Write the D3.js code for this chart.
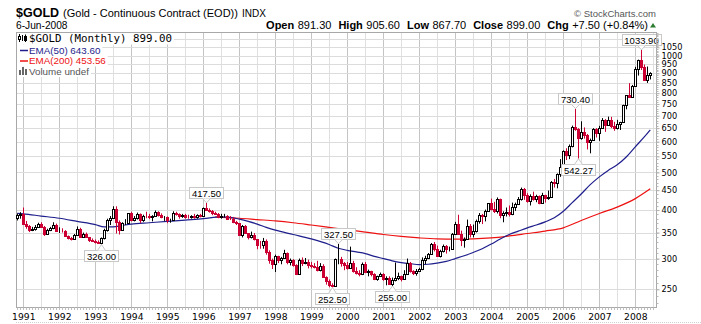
<!DOCTYPE html>
<html>
<head>
<meta charset="utf-8">
<script src="https://cdn.jsdelivr.net/npm/d3@7"></script>
<style>
  body { margin: 0; background: #fff; }
  svg { display: block; font-family: "Liberation Sans", Arial, sans-serif; }
</style>
</head>
<body>
<svg id="chart" width="701" height="324"></svg>
<script>
// ---- Monthly bars, Nov 1990 through Jun 2008 ----
const firstMonth = "1990-11";

const opens = [
  382, 388,                                                   // 1990
  391, 368, 363, 356, 357, 362, 368, 362, 348, 355, 359, 367, // 1991
  354, 354, 353, 342, 338, 337, 344, 357, 341, 348, 340, 334, // 1992
  333, 331, 329, 338, 355, 378, 382, 402, 372, 355, 370, 371, // 1993
  392, 378, 381, 390, 376, 387, 386, 384, 386, 395, 389, 383, // 1994
  384, 376, 377, 392, 390, 386, 388, 384, 383, 385, 383, 388, // 1995
  387, 405, 401, 397, 392, 391, 384, 386, 387, 380, 379, 373, // 1996
  370, 345, 364, 349, 340, 345, 336, 326, 325, 333, 311, 297, // 1997
  290, 304, 297, 301, 310, 294, 297, 289, 274, 297, 293, 294, // 1998
  288, 287, 286, 280, 287, 269, 262, 256, 255, 299, 300, 292, // 1999
  289, 283, 293, 278, 275, 273, 290, 277, 278, 273, 265, 270, // 2000
  273, 266, 267, 258, 264, 267, 271, 266, 274, 293, 279, 275, // 2001
  279, 282, 297, 301, 309, 327, 318, 305, 313, 324, 317, 318, // 2002
  348, 368, 347, 335, 337, 364, 346, 354, 375, 388, 386, 398, // 2003
  416, 403, 397, 427, 388, 393, 395, 391, 408, 415, 428, 453, // 2004
  438, 422, 435, 428, 435, 417, 437, 429, 433, 473, 470, 496, // 2005
  517, 568, 556, 584, 654, 646, 614, 634, 624, 599, 607, 647, // 2006
  632, 650, 684, 664, 681, 658, 651, 667, 673, 745, 790, 783, // 2007
  837, 924, 972, 933, 866, 891.3                              // 2008
];
const highs = [
  392, 395,
  406, 375, 366, 362, 366, 371, 372, 364, 358, 362, 372, 369,
  361, 359, 355, 344, 341, 347, 363, 360, 350, 350, 341, 338,
  336, 334, 340, 358, 380, 386, 409, 409, 376, 372, 379, 393,
  396, 386, 394, 392, 389, 396, 391, 388, 399, 397, 392, 386,
  385, 380, 397, 396, 392, 391, 391, 389, 388, 391, 390, 391,
  406, 417.5, 404, 400, 396, 393, 391, 391, 388, 386, 384, 375,
  370, 366, 366, 349, 352, 349, 336, 333, 339, 336, 315, 300,
  307, 305, 303, 316, 311, 300, 299, 290, 300, 302, 301, 298,
  294, 292, 296, 292, 290, 270, 265, 259, 300, 327.5, 303, 294,
  294, 322, 296, 285, 280, 293, 294, 281, 279, 275, 271, 276,
  275, 270, 270, 268, 293, 276, 271, 280, 300, 294, 280, 282,
  284, 302, 305, 310, 329, 331, 324, 316, 326, 325, 322, 349,
  373, 389, 354, 340, 378, 368, 367, 378, 393, 391, 401, 417,
  428, 420, 431, 428, 397, 406, 411, 418, 418, 432, 457, 456,
  442, 439, 446, 438, 436, 443, 438, 449, 475, 481, 497, 541,
  570, 577, 590, 660, 730.4, 650, 677, 653, 628, 611, 650, 650,
  659, 690, 686, 696, 695, 675, 683, 675, 747, 790, 849, 840,
  935, 976, 1033.9, 948, 937, 905.6
];
const lows = [
  376, 380,
  366, 358, 351, 353, 354, 360, 360, 343, 346, 353, 357, 352,
  349, 350, 341, 336, 334, 336, 344, 339, 340, 339, 331, 331,
  328, 327, 326, 336, 352, 366, 380, 348, 346, 354, 366, 368,
  374, 374, 378, 370, 373, 381, 379, 374, 384, 385, 381, 375,
  370, 371, 375, 387, 380, 382, 380, 380, 380, 380, 380, 383,
  386, 398, 394, 388, 389, 381, 380, 383, 378, 377, 370, 366,
  344, 340, 347, 336, 338, 334, 317, 318, 318, 307, 291, 282,
  277, 292, 290, 300, 290, 288, 286, 272, 273, 287, 290, 283,
  283, 283, 278, 278, 268, 257, 253, 252.5, 254, 290, 286, 280,
  281, 282, 276, 273, 270, 272, 275, 270, 270, 264, 263, 269,
  263, 256, 257, 255, 262, 264, 262, 265, 272, 276, 272, 271,
  277, 280, 290, 299, 308, 313, 303, 302, 311, 309, 313, 316,
  346, 346, 323, 320, 335, 340, 340, 350, 369, 368, 374, 396,
  399, 393, 392, 381, 372, 385, 385, 388, 398, 412, 423, 425,
  418, 411, 423, 419, 414, 415, 418, 425, 432, 457, 455, 487,
  514, 538, 541, 580, 640, 542.27, 607, 611, 573, 560, 606, 615,
  603, 648, 636, 662, 650, 640, 645, 643, 670, 727, 780, 778,
  835, 888, 918, 860, 850, 867.7
];
const closes = [
  388, 391,
  368, 363, 356, 357, 362, 368, 362, 348, 355, 359, 367, 354,
  354, 353, 342, 338, 337, 344, 357, 341, 348, 340, 334, 333,
  331, 329, 338, 355, 378, 382, 402, 372, 355, 370, 371, 392,
  378, 381, 390, 376, 387, 386, 384, 386, 395, 389, 383, 384,
  376, 377, 392, 390, 386, 388, 384, 383, 385, 383, 388, 387,
  405, 401, 397, 392, 391, 384, 386, 387, 380, 379, 373, 370,
  345, 364, 349, 340, 345, 336, 326, 325, 333, 311, 297, 290,
  304, 297, 301, 310, 294, 297, 289, 274, 297, 293, 294, 288,
  287, 286, 280, 287, 269, 262, 256, 255, 299, 300, 292, 289,
  283, 293, 278, 275, 273, 290, 277, 278, 273, 265, 270, 273,
  266, 267, 258, 264, 267, 271, 266, 274, 293, 279, 275, 279,
  282, 297, 301, 309, 327, 318, 305, 313, 324, 317, 318, 348,
  368, 347, 335, 337, 364, 346, 354, 375, 388, 386, 398, 416,
  403, 397, 427, 388, 393, 395, 391, 408, 415, 428, 453, 438,
  422, 435, 428, 435, 417, 437, 429, 433, 473, 470, 496, 517,
  568, 556, 584, 654, 646, 614, 634, 624, 599, 607, 647, 632,
  650, 684, 664, 681, 658, 651, 667, 673, 745, 790, 783, 837,
  924, 972, 933, 866, 891.5, 899
];

// ---- Moving averages (sampled along the curve) ----
const ema50Months = ["1990-11","1991-01","1991-07","1992-01","1992-07","1993-01","1993-04","1993-07","1993-10",
  "1994-01","1994-07","1995-01","1995-07","1996-01","1996-07","1996-10","1997-01","1997-04","1997-07","1997-10",
  "1998-01","1998-07","1999-01","1999-07","1999-10","2000-01","2000-04","2000-07","2000-10","2001-01","2001-04",
  "2001-07","2001-10","2002-01","2002-04","2002-07","2002-10","2003-01","2003-04","2003-07","2003-10","2004-01",
  "2004-04","2004-07","2004-10","2005-01","2005-04","2005-07","2005-10","2006-01","2006-04","2006-07","2006-10",
  "2007-01","2007-04","2007-07","2007-10","2008-01","2008-04","2008-06"];
const ema50Values = [392, 391, 386, 381, 374, 367, 362, 362, 365,
  368, 371, 374, 377, 380, 384, 383, 379, 374, 368, 361,
  355, 346, 337, 326, 319, 315, 312, 309, 304, 300, 296,
  293, 291, 289.5, 290, 292, 295, 300, 305, 311, 318, 327,
  337, 346, 353, 360, 366, 373, 382, 397, 418, 440, 465,
  487, 506, 523, 548, 582, 617, 643.6];

const ema200Months = ["1996-05","1996-10","1997-01","1997-07","1998-01","1998-07","1999-01","1999-07","2000-01",
  "2000-07","2001-01","2001-07","2002-01","2002-07","2003-01","2003-07","2004-01","2004-07","2005-01","2005-07",
  "2006-01","2006-07","2007-01","2007-07","2008-01","2008-06"];
const ema200Values = [384, 382, 381, 378, 375, 371, 366, 361, 356,
  351, 346, 342, 339, 337, 336.5, 337, 339, 343, 348, 353,
  360, 376, 392, 407, 428, 453.56];

// ---- Axis ticks and labelled extremes ----
const priceTicks = [250, 300, 350, 400, 450, 500, 550, 600, 650, 700, 750, 800, 850, 900, 950, 1000, 1050];
const extraGrid = [1100];
const markedHighs = ["1996-02", "1999-10", "2006-05", "2008-03"];
const markedLows = ["1993-03", "1999-08", "2001-04", "2006-06"];

// ---- Header figures ----
const quote = { date: "6-Jun-2008", open: "891.30", high: "905.60", low: "867.70", close: "899.00", chg: "+7.50 (+0.84%)" };
const legendRows = [
  { text: "$GOLD (Monthly) 899.00", color: "#000" },
  { text: "EMA(50) 643.60", color: "#1e1e8c" },
  { text: "EMA(200) 453.56", color: "#ee1111" },
  { text: "Volume undef", color: "#555" }
];

// ---- Layout ----
const W = 701, H = 324;
const plot = { left: 16, right: 656, top: 32, bottom: 307.5 };
const RED = "#cc0033", BLUE = "#1e1e8c", EMA_RED = "#ee1111";
const SANS = "'Liberation Sans', Arial, sans-serif";
const WIDE = "'DejaVu Sans', Verdana, sans-serif";
const MONO = "'DejaVu Sans Mono', monospace";

const parseMonth = d3.timeParse("%Y-%m");
const start = parseMonth(firstMonth);
const months = d3.timeMonth.range(start, d3.timeMonth.offset(start, opens.length));

const x = d3.scaleTime()
  .domain([new Date(1991, 0, 1), new Date(2008, 0, 1)])
  .range([23.3, 635.3]);
const y = d3.scaleLog()
  .domain([250, 1050])
  .range([289.3, 47.3]);

const svg = d3.select("#chart");
svg.append("rect").attr("width", W).attr("height", H).attr("fill", "#fff");

// ---- Grid ----
const grid = svg.append("g");
const halfYears = d3.timeMonth.every(6).range(new Date(1991, 0, 1), new Date(2008, 7, 1));
grid.selectAll("line.v").data(halfYears).join("line")
  .attr("x1", d => Math.round(x(d)) + 0.5).attr("x2", d => Math.round(x(d)) + 0.5)
  .attr("y1", plot.top).attr("y2", plot.bottom)
  .attr("stroke", d => d.getMonth() === 0 ? "#c4c4c4" : "#e0e0e0");
grid.selectAll("line.h").data(priceTicks.concat(extraGrid)).join("line")
  .attr("x1", plot.left).attr("x2", plot.right)
  .attr("y1", d => Math.round(y(d)) + 0.5).attr("y2", d => Math.round(y(d)) + 0.5)
  .attr("stroke", "#dcdcdc");

// frame
svg.append("rect")
  .attr("x", plot.left + 0.5).attr("y", plot.top + 0.5)
  .attr("width", plot.right - plot.left).attr("height", plot.bottom - plot.top - 0.5)
  .attr("fill", "none").attr("stroke", "#a8a8a8");

// ---- Moving averages ----
const emaLine = d3.line()
  .x(d => x(d[0])).y(d => y(d[1]))
  .curve(d3.curveMonotoneX);
svg.append("path")
  .datum(ema200Months.map((m, i) => [parseMonth(m), ema200Values[i]]))
  .attr("d", emaLine).attr("fill", "none").attr("stroke", EMA_RED).attr("stroke-width", 1.2);
svg.append("path")
  .datum(ema50Months.map((m, i) => [parseMonth(m), ema50Values[i]]))
  .attr("d", emaLine).attr("fill", "none").attr("stroke", BLUE).attr("stroke-width", 1.2);

// ---- Candles ----
const bars = months.map((d, i) => ({
  date: d, o: opens[i], h: highs[i], l: lows[i], c: closes[i],
  prev: i ? closes[i - 1] : opens[i]
}));
const candle = svg.append("g").selectAll("g").data(bars).join("g")
  .attr("transform", d => `translate(${Math.round(x(d.date))},0)`);
const colorOf = d => d.c >= d.prev ? "#000" : RED;
candle.append("line")
  .attr("x1", 0.5).attr("x2", 0.5)
  .attr("y1", d => y(d.h)).attr("y2", d => y(d.l))
  .attr("stroke", colorOf);
candle.append("rect")
  .attr("x", -0.5).attr("width", 2)
  .attr("y", d => Math.round(y(Math.max(d.o, d.c))) + 0.5)
  .attr("height", d => Math.max(0, Math.round(y(Math.min(d.o, d.c))) - Math.round(y(Math.max(d.o, d.c)))))
  .attr("fill", d => d.c > d.o ? "#fff" : colorOf(d))
  .attr("stroke", colorOf);

// ---- Labelled highs and lows ----
const notes = svg.append("g");
function addNote(monthStr, isHigh) {
  const i = months.findIndex(m => +m === +parseMonth(monthStr));
  const v = isHigh ? highs[i] : lows[i];
  const cx = Math.round(x(months[i])) + 0.5;
  const py = y(v);
  const label = v.toFixed(2);
  const g = notes.append("g");
  const t = g.append("text").attr("font-size", 9.5).attr("text-anchor", "middle").text(label);
  const w = t.node().getComputedTextLength() + 5;
  const bh = 11;
  const by = isHigh ? py - 5 - bh : py + 5;
  g.insert("rect", "text")
    .attr("x", Math.round(cx - w / 2) + 0.5).attr("y", Math.round(by) + 0.5)
    .attr("width", Math.round(w)).attr("height", bh)
    .attr("fill", "#fff").attr("stroke", "#c8c8c8");
  t.attr("x", cx).attr("y", Math.round(by) + 9.5);
  const edge = isHigh ? Math.round(by) + bh + 0.5 : Math.round(by) + 0.5;
  g.append("path")
    .attr("d", `M${cx - 4},${edge}L${cx},${py}L${cx + 4},${edge}`)
    .attr("fill", "#fff").attr("stroke", "#c8c8c8");
}
markedHighs.forEach(m => addNote(m, true));
markedLows.forEach(m => addNote(m, false));

// ---- Right price axis ----
const yAxis = svg.append("g").attr("transform", `translate(${plot.right + 0.5},0)`)
  .call(d3.axisRight(y).tickValues(priceTicks).tickFormat(d3.format("d")).tickSize(3).tickPadding(2));
yAxis.attr("font-family", null).attr("font-size", null);
yAxis.select(".domain").attr("stroke", "#a8a8a8").attr("d", `M0,${plot.top}V${plot.bottom}`);
yAxis.selectAll(".tick line").attr("stroke", "#a8a8a8");
yAxis.selectAll(".tick text").attr("fill", "#000")
  .style("font-family", WIDE).style("font-size", "8.2px");
const minorPrices = d3.range(230, 1150, 10);
svg.append("g").selectAll("line").data(minorPrices).join("line")
  .attr("x1", plot.right + 0.5).attr("x2", plot.right + 2.5)
  .attr("y1", d => Math.round(y(d)) + 0.5).attr("y2", d => Math.round(y(d)) + 0.5)
  .attr("stroke", "#b8b8b8");

// ---- Bottom time axis ----
const xAxis = svg.append("g").attr("transform", `translate(0,${plot.bottom})`)
  .call(d3.axisBottom(x).ticks(d3.timeYear).tickFormat(d3.timeFormat("%Y")).tickSize(0).tickPadding(5.5));
xAxis.select(".domain").remove();
xAxis.selectAll(".tick text").attr("fill", "#000")
  .style("font-family", WIDE).style("font-size", "9.2px");
const monthTicks = d3.timeMonth.range(new Date(1990, 10, 1), new Date(2008, 7, 1));
svg.append("g").selectAll("line").data(monthTicks).join("line")
  .attr("x1", d => Math.round(x(d)) + 0.5).attr("x2", d => Math.round(x(d)) + 0.5)
  .attr("y1", plot.bottom).attr("y2", plot.bottom + 2.5)
  .attr("stroke", "#c0c0c0");
svg.append("line").attr("x1", plot.left).attr("x2", W).attr("y1", 322.5).attr("y2", 322.5)
  .attr("stroke", "#d0d0d0").attr("stroke-dasharray", "1,1");

// ---- Legend ----
const legend = svg.append("g");
const rowBase = [42, 53.5, 64, 74.5];
legendRows.forEach((r, i) => {
  const t = legend.append("text")
    .attr("x", 29).attr("y", rowBase[i]).attr("fill", r.color)
    .style("font-size", i === 0 ? "10.8px" : "9.8px")
    .style("font-family", i === 0 ? MONO : SANS)
    .text(r.text);
  const w = t.node().getComputedTextLength();
  legend.insert("rect", "text")
    .attr("x", plot.left + 1).attr("y", (i === 0 ? plot.top + 1 : rowBase[i - 1] + 2.5))
    .attr("width", 29 + w + 2 - plot.left - 1)
    .attr("height", i === 0 ? rowBase[0] + 2.5 - plot.top - 1 : rowBase[i] - rowBase[i - 1])
    .attr("fill", "#fff");
});
// legend keys
legend.append("path").attr("d", "M19.5,34V42M22.5,35V41M25.5,34.5V42").attr("stroke", "#000");
legend.append("rect").attr("x", 18.5).attr("y", 36.5).attr("width", 2).attr("height", 3).attr("fill", "#fff").attr("stroke", "#000");
legend.append("rect").attr("x", 24.5).attr("y", 36.5).attr("width", 2).attr("height", 4).attr("fill", "#000").attr("stroke", "#000");
legend.append("line").attr("x1", 20).attr("x2", 28).attr("y1", 50.5).attr("y2", 50.5).attr("stroke", BLUE).attr("stroke-width", 1.5);
legend.append("line").attr("x1", 20).attr("x2", 28).attr("y1", 61).attr("y2", 61).attr("stroke", EMA_RED).attr("stroke-width", 1.5);
legend.append("path").attr("d", "M19,75V70h2V75M22,75V67h2V75M25,75V69h2V75").attr("fill", "#666");

// ---- Header ----
const head = svg.append("g");
const title = head.append("text").attr("x", 16).attr("y", 16.5);
title.append("tspan").attr("font-weight", "bold").attr("font-size", 12.5).text("$GOLD");
title.append("tspan").attr("font-size", 11).attr("dx", 4).text("(Gold - Continuous Contract (EOD))");
title.append("tspan").attr("font-size", 10).attr("dx", 4).text("INDX");

head.append("text").attr("x", 16).attr("y", 29).attr("font-size", 10.2).text(quote.date);
head.append("text").attr("x", 656).attr("y", 16.5).attr("font-size", 9.5).attr("fill", "#555")
  .attr("text-anchor", "end").text("\u00a9 StockCharts.com");

const q = head.append("text").attr("x", 656 - 8).attr("y", 28.5).attr("font-size", 11).attr("text-anchor", "end");
[["Open", quote.open], ["High", quote.high], ["Low", quote.low], ["Close", quote.close], ["Chg", quote.chg]]
  .forEach(([k, v], i) => {
    q.append("tspan").attr("font-weight", "bold").attr("dx", i ? 7 : 0).text(k);
    q.append("tspan").attr("dx", 3.5).text(v);
  });
head.append("path").attr("d", "M650,27.5L653,23L656,27.5Z").attr("fill", "#2e7d32");
</script>
</body>
</html>
